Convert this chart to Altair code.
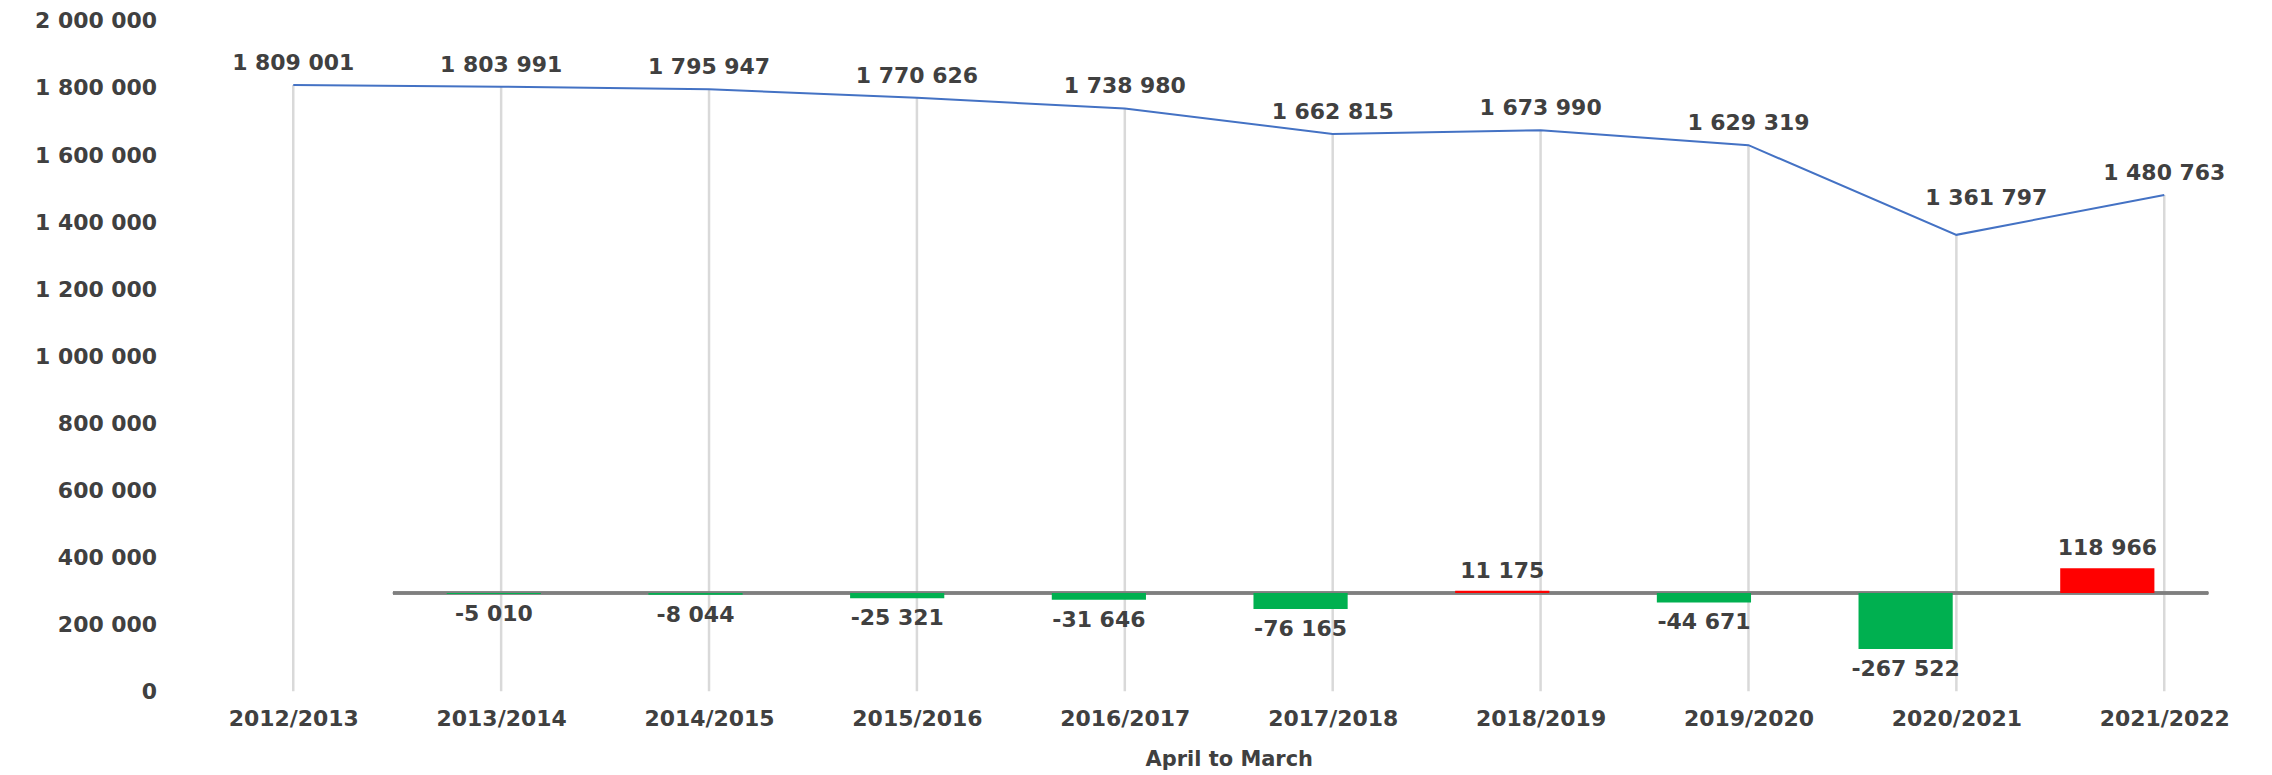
import altair as alt
import pandas as pd

years = ["2012/2013", "2013/2014", "2014/2015", "2015/2016", "2016/2017",
         "2017/2018", "2018/2019", "2019/2020", "2020/2021", "2021/2022"]
totals = [1809001, 1803991, 1795947, 1770626, 1738980,
          1662815, 1673990, 1629319, 1361797, 1480763]
change_years = years[1:]
changes = [-5010, -8044, -25321, -31646, -76165, 11175, -44671, -267522, 118966]

def fmt(v):
    return f"{v:,}".replace(",", " ")

df_line = pd.DataFrame({"year": years, "total": totals,
                        "label": [fmt(v) for v in totals]})
df_bar = pd.DataFrame({"yb": change_years, "change": changes,
                       "label": [fmt(v) for v in changes]})

FONT = "DejaVu Sans"
TXT = "#404040"
FS = 22

x_axis = alt.Axis(
    title="April to March", labelAngle=0, labelFont=FONT, labelFontSize=FS,
    labelFontWeight="bold", labelColor=TXT, labelPadding=17, domain=False,
    ticks=False, grid=False, titleFont=FONT, titleFontSize=21,
    titleFontWeight="bold", titleColor=TXT, titleX=1062, titleY=68,
    titleBaseline="middle",
)
y_axis = alt.Axis(
    title=None, values=list(range(0, 2000001, 200000)),
    labelExpr="replace(replace(format(datum.value, ','), ',', ' '), ',', ' ')",
    labelFont=FONT, labelFontSize=FS, labelFontWeight="bold", labelColor=TXT,
    labelPadding=13, domain=False, ticks=False, grid=False,
)
x_scale = alt.Scale(type="point", domain=years, range=[124, 2000], padding=0)
y_scale = alt.Scale(domain=[0, 2000000], nice=False)

def xl(axis=None):
    return alt.X("year:N", axis=axis, scale=x_scale)

def yl(axis=None):
    return alt.Y("total:Q", axis=axis, scale=y_scale)

base_line = alt.Chart(df_line)
drops = base_line.mark_rule(color="#D9D9D9", strokeWidth=2.5).encode(
    x=xl(x_axis), y=yl(y_axis), y2=alt.datum(0))
line = base_line.mark_line(color="#4472C4", strokeWidth=2).encode(x=xl(), y=yl())
line_text = base_line.mark_text(
    dy=-22, font=FONT, fontSize=FS, fontWeight="bold", color=TXT
).encode(x=xl(), y=yl(), text="label:N").transform_filter(
    alt.datum.year != "2020/2021")
line_text_special = base_line.mark_text(
    dx=30, dy=-37, font=FONT, fontSize=FS, fontWeight="bold", color=TXT
).encode(x=xl(), y=yl(), text="label:N").transform_filter(
    alt.datum.year == "2020/2021")

xb_scale = alt.Scale(type="band", domain=change_years, range=[224, 2044],
                     paddingInner=0.533, paddingOuter=0.2665)
yb_scale = alt.Scale(domain=[-470000, 2740000], nice=False, zero=False)

def xb():
    return alt.X("yb:N", axis=None, scale=xb_scale)

def yb():
    return alt.Y("change:Q", axis=None, scale=yb_scale)

base_bar = alt.Chart(df_bar)
baseline = base_bar.mark_rule(color="#7F7F7F", strokeWidth=2.5).encode(
    x=alt.value(224), x2=alt.value(2044),
    y=alt.YDatum(0, type="quantitative", scale=yb_scale, axis=None))
bars = base_bar.mark_bar().encode(
    x=xb(), y=yb(), y2=alt.datum(0),
    color=alt.condition(alt.datum.change > 0, alt.value("#FF0000"), alt.value("#00B050")))
bar_text_pos = base_bar.mark_text(
    dy=-20, font=FONT, fontSize=FS, fontWeight="bold", color=TXT
).encode(x=xb(), y=yb(), text="label:N").transform_filter(alt.datum.change > 0)
bar_text_neg = base_bar.mark_text(
    dy=20, font=FONT, fontSize=FS, fontWeight="bold", color=TXT
).encode(x=xb(), y=yb(), text="label:N").transform_filter(alt.datum.change < 0)

chart = alt.layer(
    drops, line, line_text, line_text_special,
    baseline, bars, bar_text_pos, bar_text_neg
).resolve_scale(
    x="independent", y="independent"
).properties(
    width=2090, height=672,
    autosize=alt.AutoSizeParams(type="none"),
    padding={"left": 162, "top": 12, "right": 10, "bottom": 82},
    background="white",
).configure_view(stroke=None)

chart.save("out.html", embed_options={"renderer": "svg", "actions": False})
